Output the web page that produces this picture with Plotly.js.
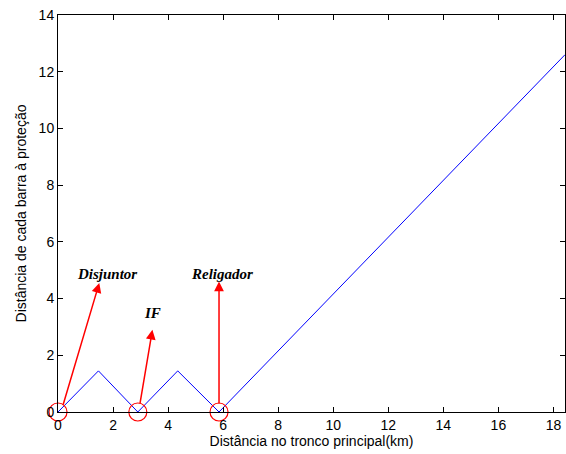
<!DOCTYPE html>
<html><head><meta charset="utf-8">
<script src="https://cdn.plot.ly/plotly-3.0.1.min.js"></script>
<style>body{margin:0;background:#fff}#c{width:566px;height:454px}</style>
</head><body><div id="c"></div>
<script>
// Line data (distance along main trunk vs distance of each bus to protection)
const xKm = [0, 1.47, 2.9, 4.35, 5.85, 18.42];
const yDist = [0, 1.45, 0, 1.45, 0, 12.6];
// Protection devices
const devX = [0, 2.9, 5.85];
const devY = [0, 0, 0];
const devLabels = ['Disjuntor', 'IF', 'Religador'];
const arrowStartX = [0.17, 2.97, 5.85];
const arrowStartY = [0.2, 0.25, 0.25];
const arrowTipX = [1.5, 3.43, 5.85];
const arrowTipY = [4.55, 2.9, 4.6];
const labelX = [1.77, 3.42, 5.95];
const labelY = [4.87, 3.5, 4.87];

const trace = {x: xKm, y: yDist, mode: 'lines', line: {color: '#0000ff', width: 1}, hoverinfo: 'none'};
const circles = {x: devX, y: devY, mode: 'markers', cliponaxis: false, hoverinfo: 'none',
  marker: {symbol: 'circle-open', size: 18, color: '#ff0000', line: {color: '#ff0000', width: 1.2}}};

const annotations = [];
for (let i = 0; i < devX.length; i++) {
  annotations.push({x: arrowTipX[i], y: arrowTipY[i], ax: arrowStartX[i], ay: arrowStartY[i],
    xref: 'x', yref: 'y', axref: 'x', ayref: 'y', text: '', showarrow: true,
    arrowhead: 2, arrowsize: 1.3, arrowwidth: 1.5, arrowcolor: '#ff0000'});
  annotations.push({x: labelX[i], y: labelY[i], xref: 'x', yref: 'y', text: '<b><i>' + devLabels[i] + '</i></b>',
    showarrow: false, font: {family: 'Liberation Serif, Times New Roman, serif', size: 15, color: '#000'}});
}

const axisCommon = {showline: true, linecolor: '#000', linewidth: 1, mirror: 'ticks', ticks: 'inside', ticklen: 5,
  tickcolor: '#000', showgrid: false, zeroline: false, tickfont: {family: 'Liberation Sans, Arial, sans-serif', size: 14, color: '#000'}};

const layout = {
  width: 566, height: 454, margin: {l: 58, r: 1, t: 15, b: 42},
  paper_bgcolor: '#fff', plot_bgcolor: '#fff', showlegend: false,
  xaxis: Object.assign({}, axisCommon, {range: [0, 18.42], tickvals: [0,2,4,6,8,10,12,14,16,18],
    title: {text: 'Distância no tronco principal(km)', standoff: 2, font: {family: 'Liberation Sans, Arial, sans-serif', size: 14, color: '#000'}}}),
  yaxis: Object.assign({}, axisCommon, {range: [0, 14], tickvals: [0,2,4,6,8,10,12,14],
    title: {text: 'Distância de cada barra à proteção', standoff: 8, font: {family: 'Liberation Sans, Arial, sans-serif', size: 14, color: '#000'}}}),
  annotations: annotations
};
Plotly.newPlot('c', [trace, circles], layout, {displayModeBar: false, staticPlot: true});
</script></body></html>
